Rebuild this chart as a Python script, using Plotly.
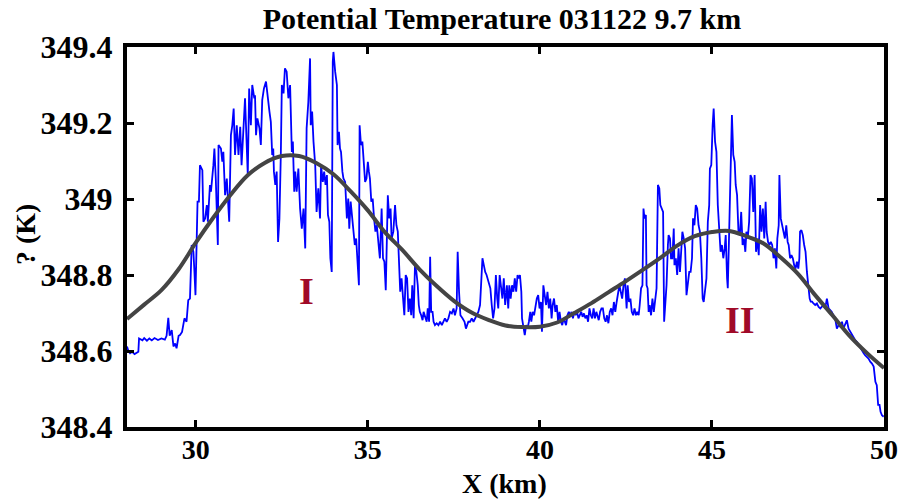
import plotly.graph_objects as go

# ---- data ----
blue_x = [
28.00,28.04,28.09,28.15,28.22,28.30,28.33,28.35,28.45,28.50,28.58,28.65,28.72,28.80,28.90,29.00,29.10,29.15,29.20,29.24,
29.30,29.35,29.40,29.44,29.50,29.54,29.60,29.67,29.73,29.78,29.83,29.88,29.93,29.96,29.99,30.05,30.09,30.12,30.19,30.22,
30.27,30.32,30.35,30.41,30.44,30.51,30.54,30.58,30.64,30.66,30.73,30.77,30.80,30.85,30.90,30.97,30.99,31.02,31.06,31.10,
31.14,31.19,31.24,31.29,31.33,31.38,31.43,31.51,31.55,31.60,31.64,31.70,
31.72,31.75,31.79,31.85,31.89,31.93,31.98,32.04,32.08,32.14,32.18,32.22,32.25,32.27,32.31,32.35,32.39,32.43,32.47,32.50,
32.55,32.59,32.64,32.69,32.74,32.79,32.82,32.86,32.89,32.93,32.98,33.03,33.08,33.13,33.18,33.22,33.27,33.32,33.34,33.38,
33.42,33.47,33.51,33.56,33.61,33.64,33.69,33.73,33.77,33.81,33.84,33.88,33.91,33.95,33.98,34.00,34.05,34.10,34.12,34.16,
34.19,34.22,34.26,34.29,34.34,34.39,34.43,34.46,34.50,34.54,34.58,34.62,34.66,34.70,34.74,34.76,34.80,34.84,34.88,34.92,
34.96,35.00,35.03,35.06,35.10,35.14,35.18,35.22,35.26,35.30,35.34,
35.35,35.40,35.44,35.48,35.52,35.55,35.58,35.62,35.66,35.69,35.74,35.79,35.83,35.87,35.91,35.94,35.98,36.02,36.06,36.10,
36.14,36.18,36.22,36.26,36.29,36.33,36.37,36.41,36.45,36.48,36.51,36.55,36.59,36.62,36.66,36.71,36.74,36.78,36.81,36.84,
36.88,36.91,36.95,37.00,37.05,37.10,37.15,37.20,37.24,37.29,37.34,37.39,37.44,37.49,37.53,37.58,37.61,37.65,37.69,37.75,
37.81,37.85,37.88,37.92,37.97,38.02,38.07,38.12,38.16,38.21,38.26,38.29,38.33,38.37,38.41,38.45,38.48,38.52,38.56,38.60,
38.64,38.68,38.72,38.76,38.79,38.83,38.87,38.91,38.95,38.99,
39.04,39.08,39.11,39.15,39.19,39.23,39.27,39.31,39.35,39.39,39.42,39.46,39.48,39.52,39.56,39.60,39.64,39.68,39.72,39.75,
39.79,39.83,39.87,39.91,39.95,39.99,40.03,40.06,40.10,40.14,40.18,40.22,40.26,40.30,40.34,40.37,40.41,40.45,40.49,40.53,
40.57,40.61,40.65,40.69,40.72,40.76,40.80,40.84,40.88,40.92,40.96,41.00,41.04,41.08,41.12,41.16,41.20,41.24,41.28,41.32,
41.36,41.40,41.44,41.48,41.52,41.56,41.60,41.64,41.67,41.71,41.75,41.79,41.83,41.87,41.91,41.95,41.99,42.03,42.07,42.11,
42.15,42.19,42.23,42.27,42.31,42.35,42.39,42.43,42.47,
42.52,42.55,42.59,42.63,42.67,42.71,42.75,42.79,42.83,42.87,42.90,42.94,42.98,43.01,43.04,43.08,43.10,43.13,43.16,43.19,
43.23,43.27,43.31,43.35,43.39,43.43,43.47,43.50,43.54,43.58,43.61,43.64,43.68,43.72,43.74,43.78,43.81,43.85,43.89,43.91,
43.95,43.99,44.03,44.07,44.11,44.14,44.18,44.22,44.26,44.30,44.34,44.38,44.42,44.45,44.49,44.53,44.57,44.61,44.65,44.69,
44.73,44.76,44.80,44.84,44.88,44.92,44.94,44.98,45.02,45.05,45.09,45.13,45.17,45.21,45.25,45.29,45.33,45.37,45.40,45.44,
45.46,45.50,45.54,45.58,45.62,45.66,45.69,45.73,45.77,45.81,45.85,45.89,45.93,45.97,46.00,46.04,46.08,46.12,46.16,46.20,
46.24,
46.26,46.28,46.32,46.36,46.40,46.44,46.48,46.52,46.56,46.59,46.63,46.67,46.71,46.75,46.79,46.83,46.87,46.90,46.94,46.96,
47.00,47.04,47.08,47.12,47.16,47.20,47.23,47.27,47.31,47.35,47.39,47.43,47.47,47.51,47.54,47.56,47.60,47.64,47.68,47.72,
47.76,47.80,47.84,47.87,47.91,47.95,48.00,48.05,48.10,48.15,48.19,48.24,48.29,48.34,48.39,48.44,48.48,48.53,48.58,48.63,
48.68,48.73,48.78,48.82,48.87,48.92,48.97,49.02,49.07,49.11,49.16,49.21,49.26,49.31,49.36,49.41,49.45,49.50,49.55,49.60,
49.65,49.70,49.72,49.75,49.79,49.81,49.83,49.87,49.90,49.94,49.99,
]
blue_y = [
348.612,348.600,348.594,348.598,348.592,348.596,348.598,348.633,348.628,348.634,348.627,348.633,348.628,348.634,348.629,348.633,348.630,348.640,348.687,348.640,
348.655,348.612,348.620,348.607,348.640,348.642,348.650,348.686,348.677,348.734,348.738,348.879,348.861,348.808,348.747,348.993,348.993,349.089,349.076,348.940,
348.949,348.984,348.940,349.037,349.019,349.089,349.133,349.054,348.879,349.142,349.133,349.098,349.124,349.010,349.054,348.940,349.037,349.168,349.194,349.238,
349.116,349.194,349.116,349.190,349.089,349.186,349.265,349.063,349.291,349.194,349.300,349.265,
349.273,349.168,349.212,349.186,349.142,349.260,349.291,349.309,349.273,349.230,349.203,349.116,349.133,349.072,349.037,349.072,348.887,348.949,349.116,349.300,
349.278,349.344,349.335,349.265,349.300,349.124,349.151,349.019,349.072,349.019,349.080,348.975,348.922,348.975,348.870,349.186,349.256,349.370,349.194,349.230,
349.151,349.089,348.966,349.028,348.949,349.089,349.045,349.072,349.037,349.063,348.958,348.940,348.844,348.808,349.361,349.387,349.335,349.300,349.142,349.177,
349.133,349.124,349.072,349.054,349.045,348.949,349.001,348.922,348.993,348.958,348.914,348.879,348.896,348.835,348.773,349.194,349.142,349.151,349.098,349.045,
349.054,349.098,349.072,349.054,348.993,349.001,348.949,348.914,348.931,348.879,348.852,
348.844,348.975,348.844,348.835,348.760,348.896,349.010,348.949,348.975,348.896,348.914,348.984,348.931,348.914,348.844,348.756,348.791,348.738,348.694,348.800,
348.791,348.703,348.738,348.694,348.773,348.686,348.826,348.808,348.773,348.721,348.703,348.694,348.681,348.703,348.690,348.677,348.712,348.677,348.848,348.703,
348.703,348.677,348.668,348.673,348.668,348.677,348.668,348.677,348.686,348.677,348.686,348.703,348.699,348.712,348.694,348.712,348.861,348.756,348.694,348.686,
348.677,348.659,348.668,348.677,348.677,348.686,348.677,348.686,348.694,348.703,348.721,348.791,348.844,348.826,348.808,348.800,348.791,348.773,348.765,348.721,
348.686,348.712,348.800,348.738,348.712,348.800,348.765,348.738,348.791,348.721,
348.773,348.712,348.773,348.738,348.773,348.756,348.791,348.756,348.800,348.791,348.800,348.756,348.686,348.659,348.642,348.668,348.659,348.677,348.703,348.677,
348.703,348.694,348.721,348.738,348.747,348.712,348.729,348.651,348.773,348.738,348.721,348.756,348.712,348.738,348.686,348.721,348.738,348.703,348.721,348.677,
348.703,348.677,348.668,348.686,348.677,348.668,348.694,348.703,348.694,348.703,348.686,348.703,348.694,348.703,348.686,348.694,348.703,348.690,348.699,348.686,
348.694,348.677,348.712,348.694,348.686,348.712,348.686,348.703,348.694,348.681,348.703,348.712,348.712,348.686,348.677,348.694,348.673,348.703,348.712,348.694,
348.729,348.703,348.729,348.756,348.773,348.756,348.738,348.773,348.791,
348.712,348.773,348.729,348.738,348.703,348.694,348.712,348.694,348.703,348.694,348.721,348.765,348.773,348.975,348.949,348.958,348.773,348.765,348.703,348.721,
348.694,348.738,348.703,348.738,348.765,349.037,349.028,348.984,348.975,348.966,348.677,348.712,348.773,348.879,348.905,348.896,348.844,348.844,348.922,348.826,
348.844,348.800,348.870,348.808,348.861,348.914,348.896,348.870,348.747,348.773,348.808,348.808,348.844,348.949,348.931,348.984,348.975,348.931,348.914,348.844,
348.738,348.729,348.756,348.791,348.940,348.984,349.080,349.089,349.194,349.238,349.151,349.124,348.984,348.922,348.861,348.879,348.844,348.870,348.905,348.791,
348.765,348.914,349.098,349.221,349.116,349.098,349.037,349.010,348.914,348.905,348.966,348.879,348.896,348.861,348.914,348.896,348.940,349.063,349.054,348.966,
349.063,
348.966,348.861,348.896,348.852,348.984,348.914,348.975,348.896,348.993,348.914,348.887,348.879,348.887,348.879,348.844,348.870,348.817,348.896,348.931,349.063,
348.949,348.931,348.914,348.896,348.931,348.887,348.879,348.844,348.852,348.844,348.826,348.817,348.835,348.817,348.844,348.914,348.918,348.905,348.879,348.861,
348.808,348.765,348.738,348.730,348.730,348.725,348.721,348.725,348.716,348.712,348.716,348.721,348.712,348.738,348.712,348.708,348.703,348.694,348.686,348.659,
348.668,348.664,348.677,348.659,348.668,348.681,348.659,348.651,348.642,348.637,348.629,348.624,348.616,348.607,348.602,348.594,348.589,348.585,348.580,348.572,
348.567,348.559,348.545,348.519,348.510,348.466,348.458,348.458,348.440,348.431,348.427,
]

smooth_x = [28.0, 28.5, 29.0, 29.5, 30.0, 30.5, 31.0, 31.5, 32.0, 32.5, 33.0, 33.5, 34.0, 34.5, 35.0,
            35.5, 36.0, 36.5, 37.0, 37.5, 38.0, 38.5, 39.0, 39.5, 40.0, 40.5, 41.0, 41.5, 42.0, 42.5,
            43.0, 43.5, 44.0, 44.5, 45.0, 45.5, 46.0, 46.5, 47.0, 47.5, 48.0, 48.5, 49.0, 49.5, 50.0]
smooth_y = [348.684, 348.722, 348.760, 348.815, 348.885, 348.950, 349.010, 349.062, 349.095, 349.113,
            349.113, 349.095, 349.065, 349.020, 348.970, 348.912, 348.866, 348.815, 348.771, 348.732,
            348.702, 348.682, 348.667, 348.663, 348.664, 348.675, 348.700, 348.726, 348.755, 348.784,
            348.814, 348.845, 348.878, 348.902, 348.913, 348.916, 348.902, 348.883, 348.846, 348.803,
            348.747, 348.694, 348.640, 348.595, 348.555]

x_ticks = [30, 35, 40, 45, 50]
y_ticks = [348.4, 348.6, 348.8, 349.0, 349.2, 349.4]
y_tick_text = ["348.4", "348.6", "348.8", "349", "349.2", "349.4"]

title_text = "Potential Temperature 031122 9.7 km"
x_title = "X (km)"
y_title = "? (K)"
region_labels = [("I", 33.23, 348.759), ("II", 45.82, 348.682)]

SERIF = "Liberation Serif, Times New Roman, serif"

fig = go.Figure()
fig.add_trace(go.Scatter(x=blue_x, y=blue_y, mode="lines",
                         line=dict(color="#0000FF", width=1.8), hoverinfo="skip"))
fig.add_trace(go.Scatter(x=smooth_x, y=smooth_y, mode="lines", line_shape="spline",
                         line=dict(color="#444444", width=4), hoverinfo="skip"))

annotations = []
for txt, ax, ay in region_labels:
    annotations.append(dict(x=ax, y=ay, xref="x", yref="y", text=txt, showarrow=False,
                            font=dict(family=SERIF, size=38, color="#A00A28", weight="bold")))
annotations.append(dict(x=(504 - 127) / 757, y=(427 - 484) / 380, xref="paper", yref="paper",
                        text=x_title, showarrow=False, xanchor="center", yanchor="middle",
                        font=dict(family=SERIF, size=28, color="black", weight="bold")))
annotations.append(dict(x=(25 - 127) / 757, y=(427 - 235) / 380, xref="paper", yref="paper",
                        text=y_title, showarrow=False, textangle=-90, xanchor="center", yanchor="middle",
                        font=dict(family=SERIF, size=28, color="black", weight="bold")))

fig.update_layout(
    width=899, height=499,
    margin=dict(l=127, r=15, t=47, b=72, autoexpand=False),
    paper_bgcolor="white", plot_bgcolor="white",
    showlegend=False,
    title=dict(text=title_text, x=502 / 899, y=1 - 18 / 499, xanchor="center", yanchor="middle",
               font=dict(family=SERIF, size=30, color="black", weight="bold")),
    annotations=annotations,
)
fig.update_xaxes(range=[28, 50], tickmode="array", tickvals=x_ticks, automargin=False,
                 ticks="inside", ticklen=7, tickwidth=3, tickcolor="black",
                 showline=True, linewidth=4, linecolor="black", mirror="ticks",
                 showgrid=False, zeroline=False, ticklabelstandoff=-6,
                 tickfont=dict(family=SERIF, size=28, color="black", weight="bold"))
fig.update_yaxes(range=[348.4, 349.4], tickmode="array", tickvals=y_ticks, ticktext=y_tick_text,
                 automargin=False,
                 ticks="inside", ticklen=7, tickwidth=3, tickcolor="black",
                 showline=True, linewidth=4, linecolor="black", mirror="ticks",
                 showgrid=False, zeroline=False, ticklabelstandoff=4,
                 tickfont=dict(family=SERIF, size=32, color="black", weight="bold"))

fig.write_html("out.html")
